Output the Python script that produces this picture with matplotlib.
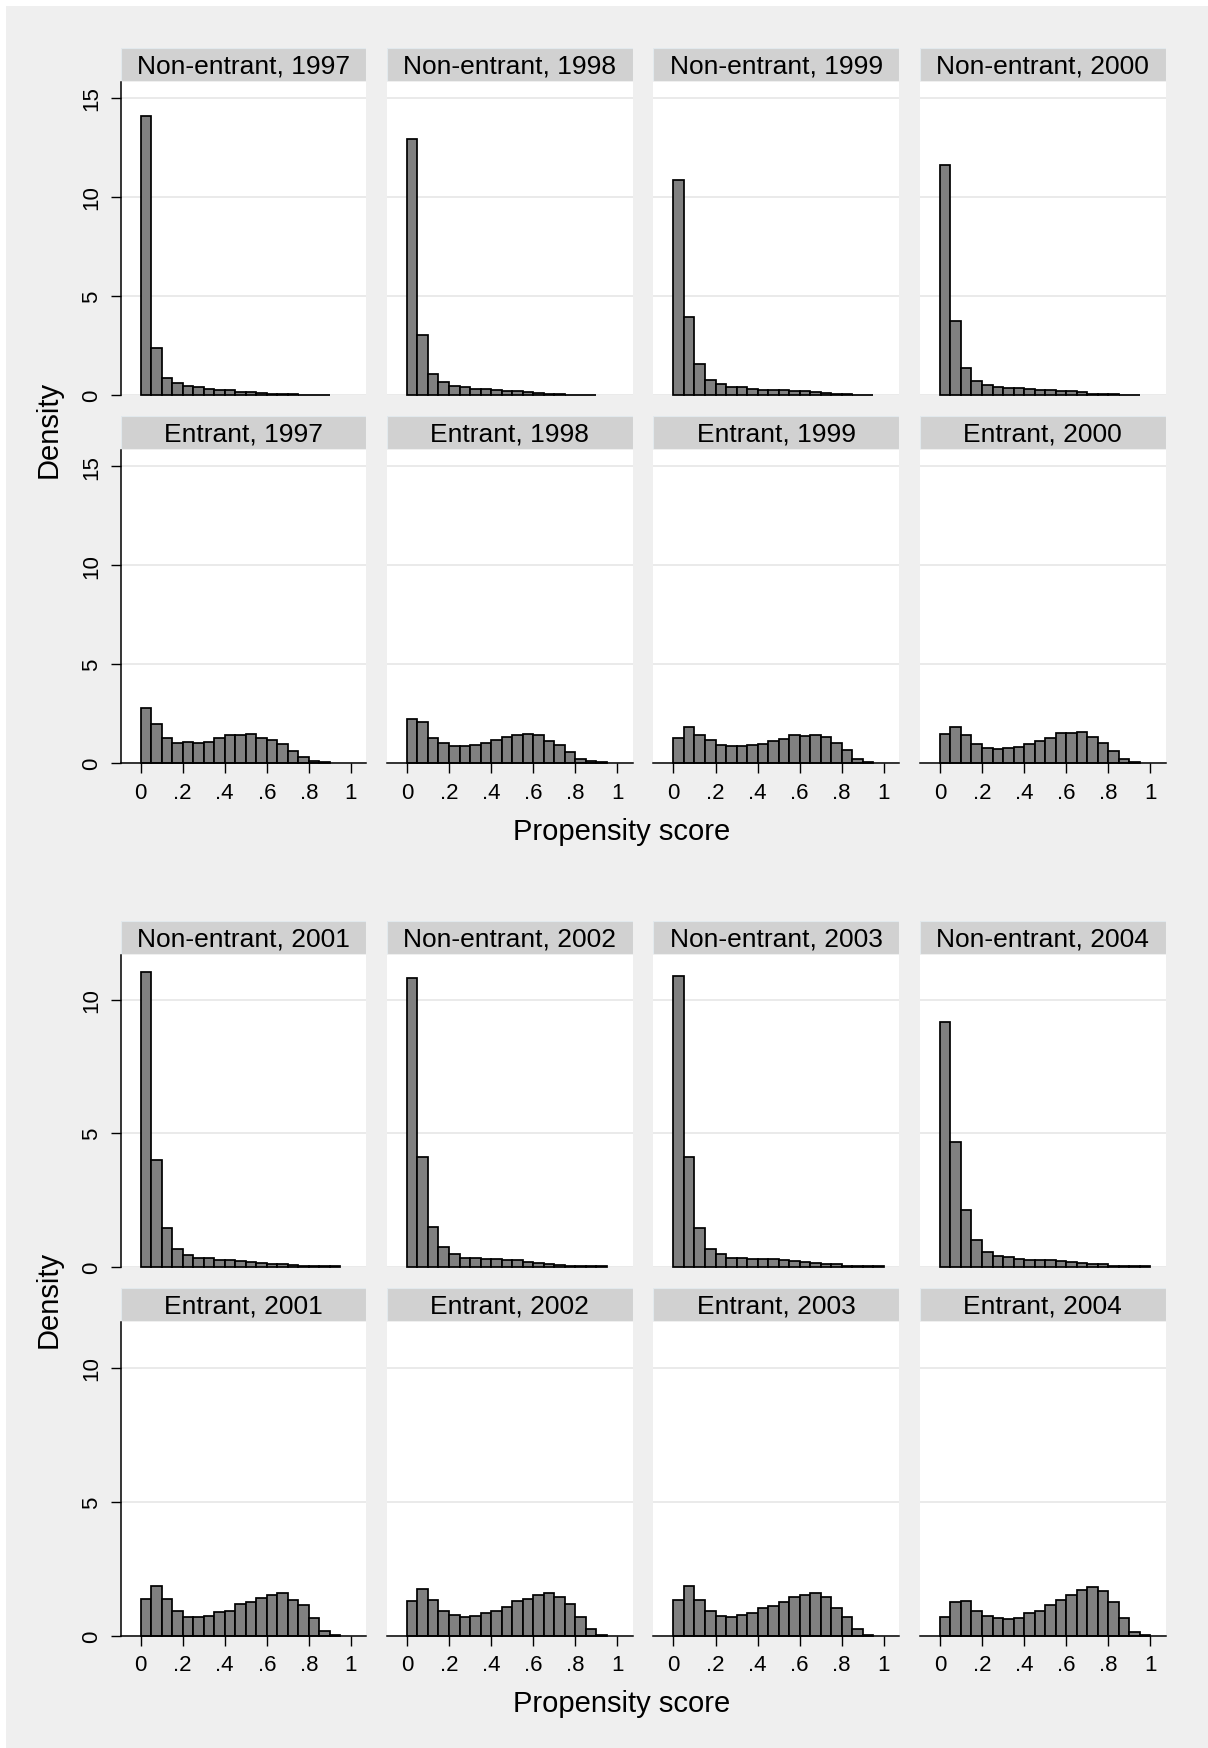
import numpy as np
import matplotlib
matplotlib.use("Agg")
import matplotlib.pyplot as plt
from matplotlib.patches import Rectangle

plt.rcParams['font.family'] = ['Liberation Sans', 'DejaVu Sans']

# ---------------- data (density per 0.05-wide bin, starting at 0) ----------------
bin_width = 0.05
years_top = [1997, 1998, 1999, 2000]
years_bottom = [2001, 2002, 2003, 2004]

ne_1997 = [14.1, 2.35, 0.84, 0.57, 0.44, 0.39, 0.29, 0.24, 0.22, 0.15, 0.12, 0.08, 0.03, 0.02, 0.02, 0.01, 0.01, 0.01]
ne_1998 = [12.93, 3.0, 1.06, 0.64, 0.46, 0.37, 0.30, 0.27, 0.24, 0.19, 0.17, 0.12, 0.08, 0.03, 0.02, 0.01, 0.01, 0.01]
ne_1999 = [10.85, 3.95, 1.55, 0.76, 0.52, 0.41, 0.37, 0.30, 0.25, 0.25, 0.24, 0.20, 0.19, 0.15, 0.10, 0.04, 0.02, 0.01, 0.01]
ne_2000 = [11.6, 3.73, 1.35, 0.68, 0.47, 0.39, 0.32, 0.32, 0.29, 0.25, 0.22, 0.20, 0.19, 0.12, 0.04, 0.02, 0.02, 0.01, 0.01]

en_1997 = [2.79, 1.98, 1.27, 1.05, 1.08, 1.0, 1.08, 1.27, 1.45, 1.42, 1.50, 1.27, 1.18, 0.95, 0.64, 0.34, 0.10, 0.07]
en_1998 = [2.25, 2.11, 1.27, 1.05, 0.88, 0.88, 0.91, 1.05, 1.20, 1.32, 1.45, 1.50, 1.42, 1.15, 0.93, 0.56, 0.22, 0.14, 0.08]
en_1999 = [1.30, 1.81, 1.44, 1.17, 0.93, 0.86, 0.86, 0.91, 0.98, 1.13, 1.23, 1.45, 1.40, 1.45, 1.35, 1.05, 0.69, 0.22, 0.08]
en_2000 = [1.49, 1.81, 1.45, 0.96, 0.78, 0.73, 0.78, 0.81, 0.98, 1.15, 1.30, 1.55, 1.55, 1.60, 1.35, 1.00, 0.64, 0.20, 0.08]

ne_2001 = [11.05, 4.0, 1.46, 0.65, 0.43, 0.33, 0.30, 0.26, 0.23, 0.21, 0.16, 0.14, 0.10, 0.08, 0.04, 0.02, 0.01, 0.01, 0.01]
ne_2002 = [10.8, 4.09, 1.49, 0.73, 0.45, 0.33, 0.33, 0.29, 0.29, 0.25, 0.23, 0.16, 0.13, 0.10, 0.06, 0.02, 0.01, 0.01, 0.01]
ne_2003 = [10.87, 4.11, 1.46, 0.66, 0.45, 0.31, 0.31, 0.29, 0.29, 0.28, 0.25, 0.19, 0.16, 0.13, 0.10, 0.08, 0.02, 0.01, 0.01, 0.01]
ne_2004 = [9.15, 4.65, 2.11, 0.98, 0.55, 0.40, 0.34, 0.29, 0.26, 0.24, 0.24, 0.21, 0.16, 0.14, 0.10, 0.08, 0.02, 0.01, 0.01, 0.01]

en_2001 = [1.39, 1.85, 1.39, 0.92, 0.72, 0.71, 0.73, 0.89, 0.94, 1.18, 1.28, 1.43, 1.52, 1.59, 1.36, 1.14, 0.66, 0.19, 0.05]
en_2002 = [1.30, 1.76, 1.33, 0.94, 0.77, 0.69, 0.74, 0.84, 0.95, 1.08, 1.31, 1.39, 1.52, 1.59, 1.44, 1.18, 0.72, 0.27, 0.04]
en_2003 = [1.33, 1.87, 1.34, 0.94, 0.73, 0.69, 0.77, 0.84, 1.05, 1.12, 1.28, 1.46, 1.51, 1.59, 1.44, 1.05, 0.71, 0.25, 0.05]
en_2004 = [0.72, 1.27, 1.31, 0.95, 0.75, 0.66, 0.62, 0.67, 0.85, 0.95, 1.14, 1.33, 1.53, 1.70, 1.84, 1.67, 1.27, 0.67, 0.14, 0.05]

x_ticks = [0, 0.2, 0.4, 0.6, 0.8, 1.0]
x_tick_labels = ["0", ".2", ".4", ".6", ".8", "1"]
y_ticks_top = [0, 5, 10, 15]
y_ticks_bottom = [0, 5, 10]
x_title = "Propensity score"
y_title = "Density"

# ---------------- layout (pixels) ----------------
W, H = 1208, 1749
fig = plt.figure(figsize=(W / 100, H / 100), dpi=100, facecolor="white")
fig.patches.append(Rectangle((6 / W, 0), 1 - 6 / W, 1 - 7 / H, transform=fig.transFigure,
                             facecolor="#efefef", edgecolor="none", zorder=-10))

col_left = [120.7, 387.0, 653.5, 920.0]
col_w = 245.5
strip_h = 33.0

BAR_FACE = "#808080"
GRID = "#e8e8e8"
STRIP = "#d1d1d1"


def px_rect(left, top, width, height):
    return [left / W, 1 - (top + height) / H, width / W, height / H]


def add_row(top, bottom, ylim, yticks, datasets, titles, show_x):
    for i, (data, title) in enumerate(zip(datasets, titles)):
        ax = fig.add_axes(px_rect(col_left[i], top, col_w, bottom - top))
        edges = np.arange(len(data)) * bin_width
        ax.set_facecolor("white")
        ax.bar(edges, data, width=bin_width, align="edge", color=BAR_FACE,
               edgecolor="black", linewidth=1.25, clip_on=False, zorder=3)
        ax.set_xlim(-0.095, 1.073)
        ax.set_ylim(*ylim)
        ax.set_yticks(yticks)
        ax.grid(axis="y", color=GRID, linewidth=1.3, zorder=0)
        ax.set_axisbelow(True)
        for s in ["top", "right"]:
            ax.spines[s].set_visible(False)
        ax.spines["left"].set_visible(i == 0)
        ax.spines["bottom"].set_visible(show_x)
        for s in ["left", "bottom"]:
            ax.spines[s].set_linewidth(1.1)
            ax.spines[s].set_zorder(4)
        if i == 0:
            ax.tick_params(axis="y", length=7.2, width=1.0, pad=6, labelsize=16)
            for lab in ax.get_yticklabels():
                lab.set_rotation(90)
                lab.set_va("center")
        else:
            ax.tick_params(axis="y", left=False, labelleft=False)
        if show_x:
            ax.set_xticks(x_ticks)
            ax.set_xticklabels(x_tick_labels)
            ax.tick_params(axis="x", length=7.2, width=1.0, pad=6, labelsize=16)
        else:
            ax.tick_params(axis="x", bottom=False, labelbottom=False)
        # strip
        sax = fig.add_axes(px_rect(col_left[i], top - strip_h - 1, col_w, strip_h))
        sax.set_xlim(0, 1)
        sax.set_ylim(0, 1)
        sax.axis("off")
        sax.add_patch(Rectangle((0, 0), 1, 1, transform=sax.transAxes, facecolor=STRIP,
                                edgecolor="#e2e9ed", linewidth=0.8))
        sax.text(0.5, 0.47, title, ha="center", va="center", fontsize=19)


# top group
add_row(83.0, 395.7, (0, 15.8), y_ticks_top,
        [ne_1997, ne_1998, ne_1999, ne_2000],
        [f"Non-entrant, {y}" for y in years_top], False)
add_row(451.0, 764.3, (0, 15.82), y_ticks_top,
        [en_1997, en_1998, en_1999, en_2000],
        [f"Entrant, {y}" for y in years_top], True)
# bottom group
add_row(956.0, 1267.5, (0, 11.67), y_ticks_bottom,
        [ne_2001, ne_2002, ne_2003, ne_2004],
        [f"Non-entrant, {y}" for y in years_bottom], False)
add_row(1323.0, 1637.0, (0, 11.7), y_ticks_bottom,
        [en_2001, en_2002, en_2003, en_2004],
        [f"Entrant, {y}" for y in years_bottom], True)

# axis titles
for yc in [429.0, 1299.0]:
    fig.text(49 / W, 1 - yc / H, y_title, rotation=90, ha="center", va="center", fontsize=21)
for yc in [832.0, 1704.0]:
    fig.text(622 / W, 1 - yc / H, x_title, ha="center", va="center", fontsize=21)

fig.savefig("out.png", dpi=100, facecolor=fig.get_facecolor())
